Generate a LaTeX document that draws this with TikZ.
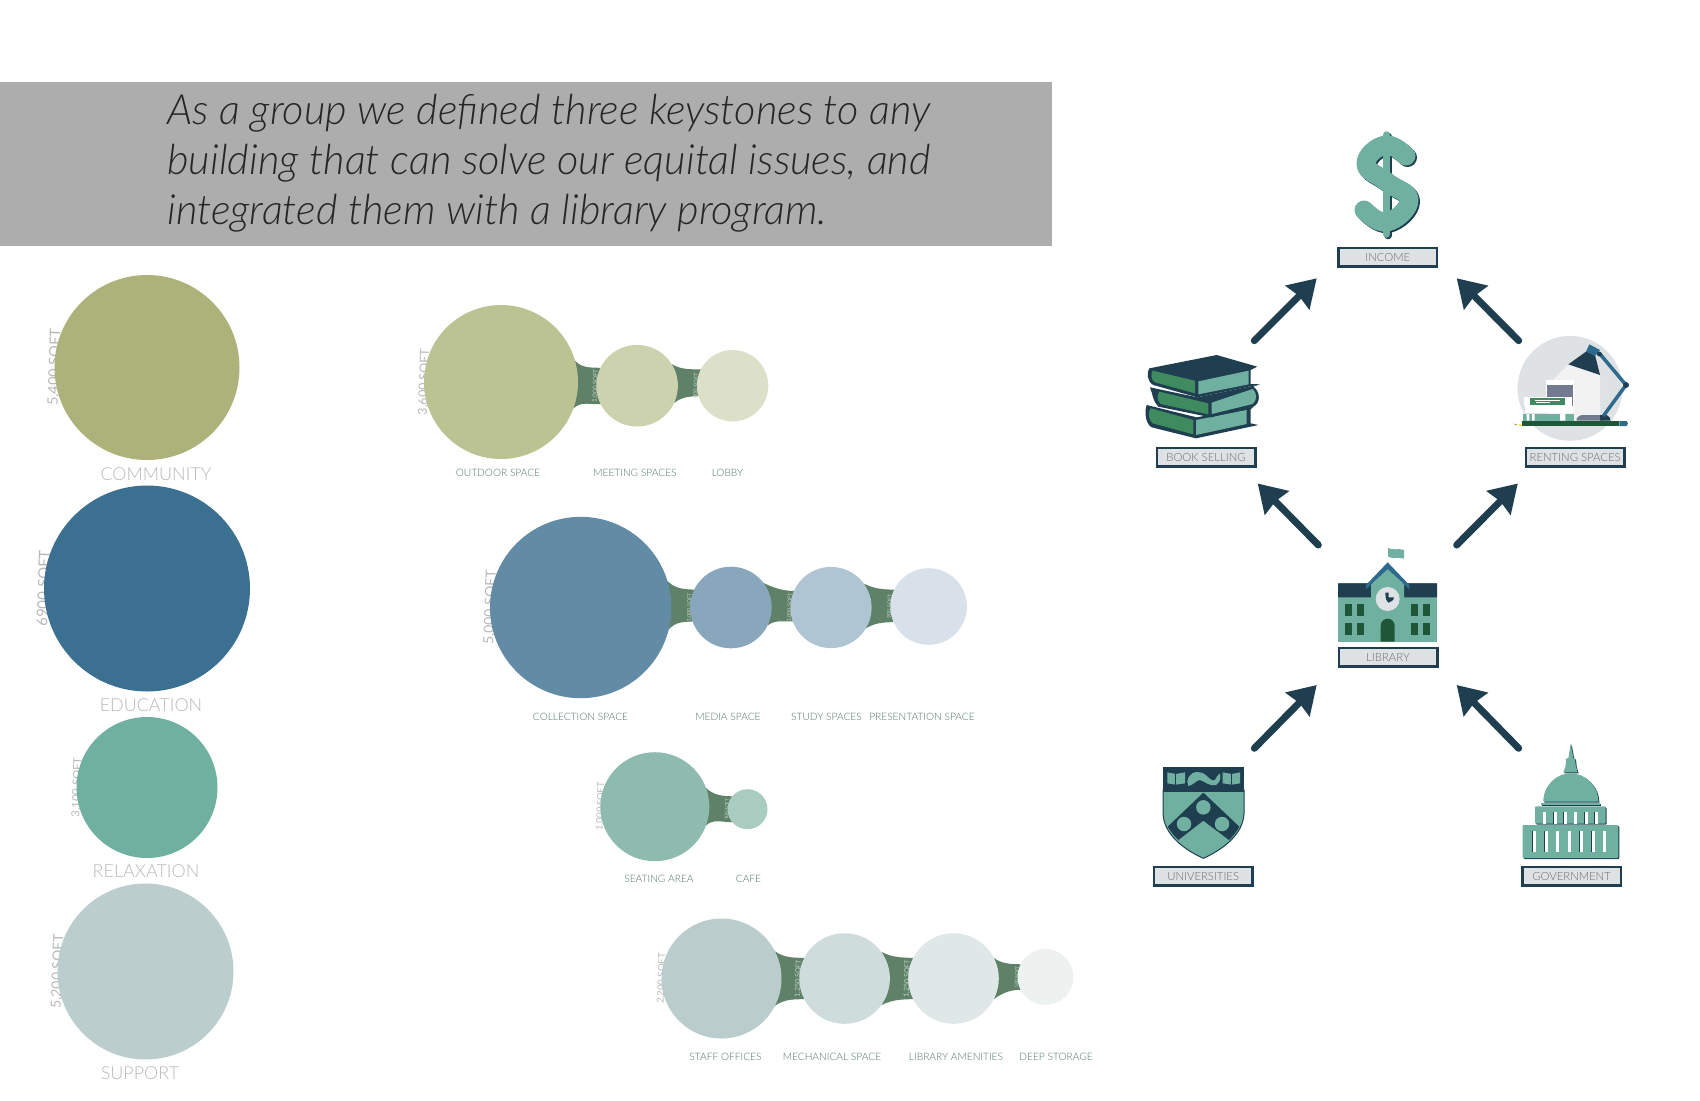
\documentclass[tikz,border=0pt]{standalone}
\usepackage{fontspec}
\usepackage{tikz}
\usetikzlibrary{positioning,arrows.meta,calc,backgrounds}

\setmainfont{Lato}
\newfontfamily\headfont[ItalicFont={Lato Light Italic}]{Lato Light}
\newfontfamily\plainfont{Lato Light}

\definecolor{banner}{HTML}{ADADAD}
\definecolor{navy}{HTML}{1F3F50}
\definecolor{teal}{HTML}{6FB0A0}
\definecolor{leaf}{HTML}{3F8A5F}
\definecolor{pine}{HTML}{1F5637}
\definecolor{steel}{HTML}{2E6A8C}
\definecolor{mist}{HTML}{DFE2E4}
\definecolor{slate}{HTML}{727B90}
\definecolor{neckgreen}{HTML}{5E8168}
\definecolor{necktext}{HTML}{C4D4C8}
\definecolor{areagrey}{HTML}{B8B8B8}
\definecolor{spacegreen}{HTML}{4F7569}
\definecolor{tagtext}{HTML}{696D70}

\newcommand{\neck}[6]{\fill[neckgreen] (#1.#2) to[out=#2-62,in=178] (#4.#5) -- (#4.#6) to[out=182,in=#3+62] (#1.#3) -- cycle;}

\begin{document}
\begin{tikzpicture}[x=0.02cm,y=-0.02cm,
  bubble/.style={circle,inner sep=0pt,outer sep=0pt,minimum size=#1*0.02cm},
  area/.style={font=\plainfont\fontsize{10.2}{11}\selectfont,text=areagrey},
  space/.style={font=\plainfont\fontsize{5.8}{7}\selectfont,text=spacegreen},
  sqftlabel/.style={rotate=88,anchor=base,inner sep=0pt,font=\fontsize{#1}{#1}\selectfont},
  tag/.style={draw=navy,line width=0.05cm,fill=mist,inner sep=0pt,minimum width=1.97cm,minimum height=0.37cm,font=\plainfont\fontsize{6.45}{8}\selectfont,text=tagtext},
  flow/.style={draw=navy,line width=0.14cm,line cap=round,-{Stealth[length=0.54cm,width=0.66cm,inset=0.04cm]}},
  money/.style={line cap=round,line join=round}]
  \useasboundingbox (0,0) rectangle (1700,1100);

  \fill[banner] (0,82) rectangle (1052,246);
  \node[anchor=west,align=left,inner sep=0pt,text=black!85,font=\headfont\itshape\fontsize{23.7}{28.35}\selectfont] (headline) at (167,163) {As a group we defined three keystones to any\\building that can solve our equital issues, and\\integrated them with a library program.};

  \node[bubble=185,fill={rgb,255:red,172;green,178;blue,122}] (community) at (147,367.5) {};
  \node[bubble=206,fill={rgb,255:red,59;green,112;blue,144},below=0.51cm of community] (education) {};
  \node[bubble=141,fill=teal,below=0.51cm of education] (relaxation) {};
  \node[bubble=176,fill={rgb,255:red,187;green,205;blue,205},below=0.51cm of relaxation,xshift=-0.03cm] (support) {};
  \node[area] (communitytext) at (156,474) {COMMUNITY};
  \node[area] (educationtext) at (151,705) {EDUCATION};
  \node[area] (relaxationtext) at (146,871) {RELAXATION};
  \node[area] (supporttext) at (140,1073) {SUPPORT};

  \node[bubble=154,fill={rgb,255:red,187;green,195;blue,146}] (outdoor) at (501,382) {};
  \node[bubble=81.6,fill={rgb,255:red,205;green,210;blue,174},right=0.366cm of outdoor,yshift=-0.074cm] (meeting) {};
  \node[bubble=71.4,fill={rgb,255:red,220;green,224;blue,201},right=0.38cm of meeting] (lobby) {};
  \node[space] (outdoortext) at (498,473) {OUTDOOR SPACE};
  \node[space] (meetingtext) at (635,473) {MEETING SPACES};
  \node[space] (lobbytext) at (727.5,473) {LOBBY};

  \node[bubble=181.4,fill={rgb,255:red,98;green,140;blue,166}] (collection) at (580.7,607.5) {};
  \node[bubble=81.6,fill={rgb,255:red,136;green,167;blue,188},right=0.374cm of collection] (media) {};
  \node[bubble=81.2,fill={rgb,255:red,176;green,197;blue,211},right=0.374cm of media] (study) {};
  \node[bubble=76.6,fill={rgb,255:red,216;green,225;blue,233},right=0.374cm of study,yshift=0.02cm] (presentation) {};
  \node[space] (collectiontext) at (580.5,717) {COLLECTION SPACE};
  \node[space] (mediatext) at (728,717) {MEDIA SPACE};
  \node[space] (studytext) at (826.5,717) {STUDY SPACES};
  \node[space] (presentationtext) at (922,717) {PRESENTATION SPACE};

  \node[bubble=109,fill={rgb,255:red,143;green,187;blue,174}] (seating) at (654.8,806.7) {};
  \node[bubble=40,fill={rgb,255:red,169;green,204;blue,193},right=0.364cm of seating,yshift=-0.05cm] (cafe) {};
  \node[space] (seatingtext) at (659,879) {SEATING AREA};
  \node[space] (cafetext) at (748.5,879) {CAFE};

  \node[bubble=120,fill={rgb,255:red,187;green,204;blue,204}] (staff) at (721.5,978.5) {};
  \node[bubble=90.6,fill={rgb,255:red,206;green,220;blue,220},right=0.356cm of staff] (mechanical) {};
  \node[bubble=90.6,fill={rgb,255:red,223;green,232;blue,231},right=0.366cm of mechanical] (amenities) {};
  \node[bubble=56,fill={rgb,255:red,237;green,242;blue,241},right=0.374cm of amenities,yshift=0.03cm] (deep) {};
  \node[space] (stafftext) at (725.5,1057) {STAFF OFFICES};
  \node[space] (mechanicaltext) at (832,1057) {MECHANICAL SPACE};
  \node[space] (amenitiestext) at (956,1057) {LIBRARY AMENITIES};
  \node[space] (deeptext) at (1056,1057) {DEEP STORAGE};

  \begin{scope}[on background layer]
    \neck{outdoor}{16}{-20}{meeting}{154}{207}
    \neck{meeting}{32}{-25}{lobby}{153}{197}
    \neck{collection}{17}{-14}{media}{154}{200}
    \neck{media}{37}{-26}{study}{156}{200}
    \neck{study}{36}{-31}{presentation}{154}{204}
    \neck{seating}{20}{-20}{cafe}{140}{220}
    \neck{staff}{27}{-27}{mechanical}{153}{207}
    \neck{mechanical}{36}{-36}{amenities}{153}{207}
    \neck{amenities}{27}{-27}{deep}{153}{207}
    \node[sqftlabel=8.2,text=areagrey] (communitysize) at ($(community.west)+(4.5,0)$) {5,400 SQFT};
    \node[sqftlabel=8.5,text=areagrey] (educationsize) at ($(education.west)+(4.5,0)$) {6900 SQFT};
    \node[sqftlabel=6.4,text=areagrey] (relaxationsize) at ($(relaxation.west)+(4,0)$) {3,100 SQFT};
    \node[sqftlabel=7.9,text=areagrey] (supportsize) at ($(support.west)+(4.5,0)$) {5,200 SQFT};
    \node[sqftlabel=7.1,text=areagrey] (outdoorsize) at ($(outdoor.west)+(4,0)$) {3,600 SQFT};
    \node[sqftlabel=3.5,text=necktext] (meetingsize) at ($(meeting.west)+(1,0)$) {1,000 SQFT};
    \node[sqftlabel=3.3,text=necktext] (lobbysize) at ($(lobby.west)+(1,0)$) {800 SQFT};
    \node[sqftlabel=7.9,text=areagrey] (collectionsize) at ($(collection.west)+(4.5,0)$) {5,000 SQFT};
    \node[sqftlabel=3,text=necktext] (mediasize) at ($(media.west)+(1,0)$) {1,000 SQFT};
    \node[sqftlabel=3.1,text=necktext] (studysize) at ($(study.west)+(1,0)$) {1,000 SQFT};
    \node[sqftlabel=3,text=necktext] (presentationsize) at ($(presentation.west)+(1,0)$) {900 SQFT};
    \node[sqftlabel=5.2,text=areagrey] (seatingsize) at ($(seating.west)+(3,0)$) {1,000 SQFT};
    \node[sqftlabel=2.7,text=necktext] (cafesize) at ($(cafe.west)+(1,0)$) {100 SQFT};
    \node[sqftlabel=5.4,text=areagrey] (staffsize) at ($(staff.west)+(3,0)$) {2,200 SQFT};
    \node[sqftlabel=4,text=necktext] (mechanicalsize) at ($(mechanical.west)+(1,0)$) {1,250 SQFT};
    \node[sqftlabel=4,text=necktext] (amenitiessize) at ($(amenities.west)+(1,0)$) {1,250 SQFT};
    \node[sqftlabel=2.7,text=necktext] (deepsize) at ($(deep.west)+(1,0)$) {500 SQFT};
  \end{scope}

  % money
  \begin{scope}[shift={(1.5,1.5)},navy,money]
    \draw[line width=0.38cm] plot[smooth,tension=0.8] coordinates {(1406,156) (1385,145) (1366,164) (1387,182) (1409,200) (1387,222) (1364,210)};
    \draw[line width=0.15cm] (1386.7,135) -- (1386.7,234);
  \end{scope}
  \begin{scope}[teal,money]
    \draw[line width=0.38cm] plot[smooth,tension=0.8] coordinates {(1406,156) (1385,145) (1366,164) (1387,182) (1409,200) (1387,222) (1364,210)};
    \draw[line width=0.15cm] (1386.7,135) -- (1386.7,234);
  \end{scope}
  \node[tag] (income) at (1387.8,257) {INCOME};

  % books
  \begin{scope}[shift={(1140,340)},x=0.00667cm,y=-0.00667cm]
    \fill[navy] (20,195) -- (170,232) -- (340,200) -- (332,208) -- (332,250) -- (355,255) -- (168,295) -- (35,262) .. controls (14,250) and (14,210) .. cycle;
    \fill[leaf] (32,205) -- (160,240) -- (160,283) -- (38,250) .. controls (24,240) and (24,215) .. cycle;
    \fill[teal] (168,240) -- (320,210) -- (320,252) -- (168,285) -- cycle;
    \fill[navy] (30,142) -- (172,172) -- (360,133) -- (340,140) .. controls (362,155) and (362,190) .. (340,200) -- (212,232) -- (55,200) .. controls (38,185) and (38,160) .. cycle;
    \fill[leaf] (58,155) -- (205,190) -- (205,223) -- (62,192) .. controls (50,180) and (50,165) .. cycle;
    \fill[teal] (215,188) -- (338,147) .. controls (352,160) and (352,180) .. (338,192) -- (215,222) -- cycle;
    \fill[navy] (28,85) -- (230,45) -- (352,80) -- (332,90) -- (332,132) -- (360,133) -- (172,172) -- (40,135) .. controls (20,125) and (20,95) .. cycle;
    \fill[leaf] (38,92) -- (165,122) -- (165,160) -- (45,127) .. controls (32,120) and (32,100) .. cycle;
    \fill[teal] (175,124) -- (326,92) -- (326,133) -- (175,163) -- cycle;
  \end{scope}
  \node[tag] (bookselling) at (1206,457) {BOOK SELLING};

  % desk
  \begin{scope}[shift={(1500,330)},x=0.00667cm,y=-0.00667cm]
    \fill[mist] (210,175) circle[radius=1.05cm];
    \fill[black!5] (205,103) -- (300,135) -- (300,272) -- (140,272) -- (140,170) -- cycle;
    \fill[white] (138,150) rectangle (222,228);
    \fill[slate] (140,165) rectangle (220,228);
    \fill[white] (72,202) rectangle (215,228);
    \fill[leaf] (90,205) rectangle (195,225);
    \draw[white,line width=0.03cm] (105,212) -- (180,212) (108,217) -- (150,217);
    \fill[white] (75,228) rectangle (218,250);
    \fill[teal] (68,252) rectangle (222,272);
    \fill[white] (80,252) rectangle (88,272) (96,252) rectangle (104,272) (180,250) rectangle (196,272);
    \fill[slate] (230,272) -- (230,265) to[bend left=20] (245,255) -- (310,255) -- (310,272) -- cycle;
    \fill[navy] (300,272) -- (300,255) -- (320,255) to[bend left=30] (332,272) -- cycle;
    \draw[steel,line width=0.07cm] (300,72) -- (378,165) -- (310,258);
    \fill[navy] (378,165) circle[radius=0.06cm];
    \fill[navy] (205,103) -- (258,65) -- (285,75) -- (300,135) -- cycle;
    \fill[steel] (268,43) -- (300,60) -- (285,78) -- (258,65) -- cycle;
    \fill[navy] (298,72) circle[radius=0.05cm];
    \fill[pine] (65,273) rectangle (358,288);
    \fill[steel] (358,273) -- (380,273) to[bend left=60] (380,288) -- (358,288) -- cycle;
    \fill[yellow!70!orange] (65,283) -- (50,284) -- (65,288) -- cycle;
    \fill[navy] (50,284) -- (40,281) -- (50,286) -- cycle;
  \end{scope}
  \node[tag] (rentingspaces) at (1575.2,457) {RENTING SPACES};

  % library
  \begin{scope}[shift={(1320,540)},x=0.00667cm,y=-0.00667cm]
    \fill[teal] (54,130) rectangle (351,305);
    \fill[navy] (54,130) rectangle (153,172) (252,130) rectangle (351,172);
    \fill[teal] (153,135) -- (203,85) -- (252,135) -- (252,200) -- (153,200) -- cycle;
    \fill[steel] (138,135) -- (203,67) -- (268,135) -- (268,148) -- (203,87) -- (138,148) -- cycle;
    \fill[mist] (203,177) circle[radius=0.24cm];
    \fill[navy] (196,158) -- (206,158) -- (206,172) -- (222,172) .. controls (222,182) and (210,186) .. (205,188) .. controls (200,184) and (196,178) .. cycle;
    \foreach \col in {76,110,274,309} {
      \foreach \row in {193,249} {
        \fill[pine] (\col,\row) rectangle +(21,36);
      }
    }
    \fill[pine] (182,305) -- (182,257) arc[start angle=180,end angle=0,radius=0.14cm] -- (224,305) -- cycle;
    \fill[teal] (204,24) .. controls (220,32) and (235,24) .. (252,30) -- (252,56) .. controls (235,50) and (220,58) .. (204,50) -- cycle;
  \end{scope}
  \node[tag] (library) at (1388,657) {LIBRARY};

  % shield
  \begin{scope}[shift={(1150,750)},x=0.00667cm,y=-0.00667cm]
    \fill[teal,draw=navy,line width=0.02cm] (39,120) -- (282,120) -- (282,190) .. controls (280,255) and (215,300) .. (160,325) .. controls (105,300) and (41,255) .. (39,190) -- cycle;
    \fill[navy] (39,50) rectangle (282,125);
    \fill[navy] (160,128) -- (268,230) .. controls (260,245) and (250,258) .. (237,270) -- (160,212) -- (85,270) .. controls (72,258) and (62,245) .. (53,230) -- cycle;
    \fill[teal] (160,172) circle[radius=0.145cm] (102,222) circle[radius=0.145cm] (216,222) circle[radius=0.145cm];
    \fill[teal] (52,67) -- (77,72) -- (105,67) -- (105,100) -- (77,104) -- (52,100) -- cycle;
    \fill[teal] (218,67) -- (245,72) -- (270,67) -- (270,100) -- (245,104) -- (218,100) -- cycle;
    \draw[navy,line width=0.02cm] (77,72) -- (77,104) (245,72) -- (245,104);
    \fill[teal] (112,95) .. controls (115,70) and (135,60) .. (160,70) .. controls (175,78) and (185,98) .. (195,90) .. controls (198,85) and (200,78) .. (210,70) .. controls (212,85) and (212,95) .. (198,105) .. controls (180,110) and (165,95) .. (150,90) .. controls (140,90) and (130,105) .. (115,108) -- cycle;
  \end{scope}
  \node[tag] (universities) at (1203.2,876) {UNIVERSITIES};

  % capitol
  \begin{scope}[shift={(1510,735)},x=0.00667cm,y=-0.00667cm]
    \foreach \tone/\off in {navy/3,teal/0} {
      \begin{scope}[shift={(\off,\off)},\tone]
        \fill (182,25) -- (190,70) -- (195,70) -- (197,92) -- (203,112) -- (160,112) -- (167,92) -- (168,70) -- (175,70) -- cycle;
        \fill (100,200) .. controls (100,150) and (140,115) .. (182,115) .. controls (224,115) and (265,150) .. (265,200) -- cycle;
        \fill (93,204) rectangle (270,211);
        \fill[rounded corners=0.02cm] (75,214) rectangle (287,266);
        \fill[rounded corners=0.02cm] (38,270) rectangle (325,369);
      \end{scope}
    }
    \foreach \gap in {100,131,162,193,224,255} {
      \fill[navy] (\gap-2,232) rectangle +(2,36);
      \fill[white] (\gap,232) rectangle +(9,36);
    }
    \foreach \gap in {68,104,139,175,210,245,280} {
      \fill[navy] (\gap-2,288) rectangle +(2,62);
      \fill[white] (\gap,288) rectangle +(9,62);
    }
  \end{scope}
  \node[tag] (government) at (1571.5,876) {GOVERNMENT};

  \coordinate (booktop) at (1254.3,340.7);
  \coordinate (incomeleft) at (1316.7,278.3);
  \coordinate (rentingtop) at (1518.7,340.7);
  \coordinate (incomeright) at (1456.7,278.3);
  \coordinate (libraryleft) at (1318.3,545);
  \coordinate (bookbottom) at (1257.7,483.5);
  \coordinate (libraryright) at (1456.7,545);
  \coordinate (rentingbottom) at (1517.8,483.5);
  \coordinate (universitiestop) at (1254.3,748.3);
  \coordinate (librarylow) at (1316.7,685);
  \coordinate (governmenttop) at (1518.7,748.3);
  \coordinate (librarylowright) at (1456.7,685);

  \draw[flow] (booktop) -- (incomeleft);
  \draw[flow] (rentingtop) -- (incomeright);
  \draw[flow] (libraryleft) -- (bookbottom);
  \draw[flow] (libraryright) -- (rentingbottom);
  \draw[flow] (universitiestop) -- (librarylow);
  \draw[flow] (governmenttop) -- (librarylowright);
\end{tikzpicture}
\end{document}
